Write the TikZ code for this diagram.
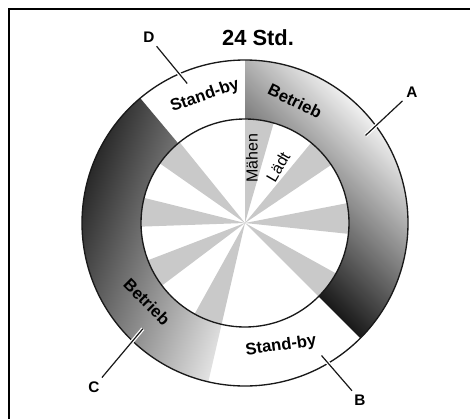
\documentclass[tikz,border=0pt]{standalone}
\usepackage{fontspec}
\setmainfont{Liberation Sans}
\usetikzlibrary{positioning}
\tikzset{
  ringtext/.style={font=\fontsize{12.5}{14}\selectfont\bfseries, inner sep=0pt},
  spoketext/.style={font=\fontsize{12}{14}\selectfont, inner sep=0pt},
  letter/.style={font=\fontsize{11.5}{13}\selectfont\bfseries, inner sep=1pt, outer sep=2pt},
  leader/.style={line width=0.9pt, draw=black!90, preaction={draw=white, line width=2.8pt}},
  rim/.style={line width=1pt, draw=black!90},
  wedge/.style={fill=black!21}
}
\newcommand{\rout}{163}
\newcommand{\rin}{104}
% ring segment between two angles
\newcommand{\ringseg}[2]{([shift={(#1:\rout)}]c) arc[start angle=#1, end angle=#2, radius=\rout]
    -- ([shift={(#2:\rin)}]c) arc[start angle=#2, end angle=#1, radius=\rin] -- cycle}

\begin{document}
\begin{tikzpicture}[x=0.75pt, y=0.75pt]
  \useasboundingbox (0,0) rectangle (470,419);
  \draw[line width=1pt] (9,0) -- (9,410) -- (470,410);

  \coordinate (c) at (245,196);

  % operating segments
  \begin{scope}
    \clip \ringseg{90}{-45};
    \shade[transform canvas={rotate around={-45:(c)}}, top color=white!96!black, middle color=black!55, bottom color=black!92]
      ([shift={(-175,-3)}]c) rectangle ([shift={(175,166)}]c);
  \end{scope}
  \begin{scope}
    \clip \ringseg{130}{257};
    \shade[transform canvas={rotate around={-110:(c)}}, top color=black!10, bottom color=black!85]
      ([shift={(-175,-166)}]c) rectangle ([shift={(175,22)}]c);
  \end{scope}

  % mowing wedges
  \foreach \a/\b in {74/90, 34/50.5, -6/11, -45/-29, -119/-103, -159/-143, 166/182, 129/145}
    \fill[wedge] (c) -- ([shift={(\a:\rin)}]c) arc[start angle=\a, end angle=\b, radius=\rin] -- cycle;

  \draw[rim] (c) circle[radius=\rout];
  \draw[rim] (c) circle[radius=\rin];

  \node[font=\fontsize{16.4}{18}\selectfont\bfseries, inner sep=0pt] (title) at (258,381) {24 Std.};

  \node[ringtext, rotate=-26] (betrA) at (295,318) {Betrieb};
  \node[ringtext, rotate=8] (standB) at (281,73) {Stand-by};
  \node[ringtext, rotate=-45] (betrC) at (147,117) {Betrieb};
  \node[ringtext, rotate=19] (standD) at (205,323) {Stand-by};

  \node[spoketext, rotate=90] (mow) at (252,261) {Mähen};
  \node[spoketext, rotate=60] (load) at (278,252) {Lädt};

  \node[letter] (labA) at (412,327) {A};
  \node[letter] (labB) at (360,19) {B};
  \node[letter] (labC) at (94,32) {C};
  \node[letter] (labD) at (149,382) {D};

  \coordinate (tipA) at ([shift={(36:149)}]c);
  \coordinate (tipB) at ([shift={(-60:153)}]c);
  \coordinate (tipC) at ([shift={(-134:147)}]c);
  \coordinate (tipD) at ([shift={(112.5:151)}]c);

  \draw[leader] (labA) -- (tipA);
  \draw[leader] (labB) -- (tipB);
  \draw[leader] (labC) -- (tipC);
  \draw[leader] (labD) -- (tipD);
\end{tikzpicture}
\end{document}
